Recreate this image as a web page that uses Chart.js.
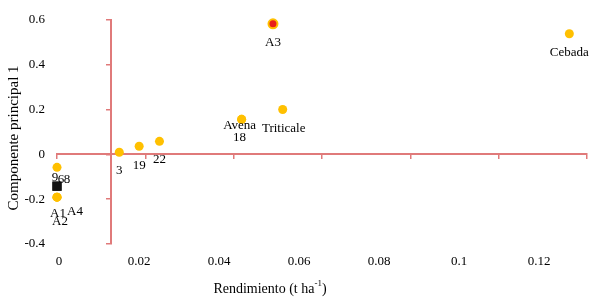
<!DOCTYPE html>
<html>
<head>
<meta charset="utf-8">
<script src="https://cdn.jsdelivr.net/npm/chart.js@4.4.0/dist/chart.umd.min.js"></script>
<style>
  html, body { margin: 0; padding: 0; background: #fff; }
  #wrap { width: 607px; height: 299px; }
</style>
</head>
<body>
<div id="wrap"><canvas id="chart"></canvas></div>
<script>
// Biplot data: yield (t/ha) vs principal component 1
const goldNames = ["Cebada", "A3", "Triticale", "Avena", "18", "22", "19", "3", "9", "A1", "A2", "A4"];
const goldX = [0.116, 0.0489, 0.0511, 0.0418, 0.0418, 0.0232, 0.0186, 0.0141, 0, 0, 0, 0];
const goldY = [0.538, 0.582, 0.2, 0.156, 0.156, 0.058, 0.036, 0.009, -0.058, -0.191, -0.191, -0.191];

const blackNames = ["6", "8"];
const blackX = [0, 0];
const blackY = [-0.142, -0.142];

const xTicks = [0, 0.02, 0.04, 0.06, 0.08, 0.1, 0.12];
const yTicks = [-0.4, -0.2, 0, 0.2, 0.4, 0.6];
const yAxisCross = 0.0122;

const axisRed = "#E07a7a";
const gold = "#FFC000";
const font = "Liberation Serif";

// label offsets in px (dx, dy) from the point centre
const labelOffsets = {
  Cebada: [0, 19], A3: [0, 19], Triticale: [1, 19], Avena: [-2, 6], "18": [-2, 18],
  "22": [0, 18], "19": [0, 19], "3": [0, 18], "9": [-2, 10],
  A1: [1, 16], A2: [3, 24], A4: [18, 14], "6": [4, -7], "8": [10, -7],
};

const toPoints = (xs, ys) => xs.map((x, i) => ({ x: x, y: ys[i] }));

const pointLabels = {
  id: "pointLabels",
  afterDatasetsDraw(chart) {
    const ctx = chart.ctx;
    ctx.save();
    ctx.font = "13px '" + font + "'";
    ctx.fillStyle = "#000";
    ctx.textAlign = "center";
    ctx.textBaseline = "middle";
    chart.data.datasets.forEach((ds, di) => {
      const meta = chart.getDatasetMeta(di);
      meta.data.forEach((el, i) => {
        const name = ds.names[i];
        const off = labelOffsets[name] || [0, 18];
        ctx.fillText(name, el.x + off[0], el.y + off[1]);
      });
    });
    ctx.restore();
  },
};

const axisTitles = {
  id: "axisTitles",
  afterDraw(chart) {
    const ctx = chart.ctx;
    const area = chart.chartArea;
    ctx.save();
    ctx.fillStyle = "#000";
    ctx.textBaseline = "middle";

    // y title
    ctx.font = "15px '" + font + "'";
    ctx.translate(14, (area.top + area.bottom) / 2 + 6);
    ctx.rotate(-Math.PI / 2);
    ctx.textAlign = "center";
    ctx.fillText("Componente principal 1", 0, 0);
    ctx.setTransform(1, 0, 0, 1, 0, 0);

    // x title with superscript
    const main = "Rendimiento (t ha";
    const sup = "-1";
    const end = ")";
    ctx.font = "14px '" + font + "'";
    const w1 = ctx.measureText(main).width;
    const w3 = ctx.measureText(end).width;
    ctx.font = "9px '" + font + "'";
    const w2 = ctx.measureText(sup).width;
    const cx = area.left + 213;
    const y = 289;
    let x = cx - (w1 + w2 + w3) / 2;
    ctx.textAlign = "left";
    ctx.font = "14px '" + font + "'";
    ctx.fillText(main, x, y);
    x += w1;
    ctx.font = "9px '" + font + "'";
    ctx.fillText(sup, x, y - 5);
    x += w2;
    ctx.font = "14px '" + font + "'";
    ctx.fillText(end, x, y);
    ctx.restore();
  },
};

new Chart(document.getElementById("chart"), {
  type: "scatter",
  data: {
    datasets: [
      {
        names: blackNames,
        data: toPoints(blackX, blackY),
        pointStyle: "rect",
        pointRadius: 6.5,
        backgroundColor: "#111",
        borderColor: "#111",
        borderWidth: 0,
        clip: false,
      },
      {
        names: goldNames,
        data: toPoints(goldX, goldY),
        pointRadius: 4.5,
        pointBackgroundColor: (c) => (goldNames[c.dataIndex] === "A3" ? "#E8201A" : gold),
        pointBorderColor: gold,
        pointBorderWidth: (c) => (goldNames[c.dataIndex] === "A3" ? 2 : 0),
        clip: false,
      },
    ],
  },
  options: {
    responsive: true,
    maintainAspectRatio: false,
    animation: false,
    layout: { padding: { top: 19, right: 20, left: 0, bottom: 0 } },
    plugins: {
      legend: { display: false },
      tooltip: { enabled: false },
    },
    scales: {
      // data axis drawn through y = 0
      x: {
        type: "linear",
        min: 0,
        max: 0.12,
        position: { y: 0 },
        afterBuildTicks: (s) => { s.ticks = xTicks.map((v) => ({ value: v })); },
        ticks: { display: false },
        grid: { drawOnChartArea: false, drawTicks: true, tickLength: 4, color: axisRed, lineWidth: 1.5 },
        border: { display: true, color: axisRed, width: 2 },
      },
      // tick labels along the bottom
      xl: {
        type: "linear",
        position: "bottom",
        min: -0.0005,
        max: 0.132,
        afterBuildTicks: (s) => { s.ticks = xTicks.map((v) => ({ value: v })); },
        afterFit: (s) => { s.height = 55; },
        ticks: {
          padding: 10,
          autoSkip: false,
          maxRotation: 0,
          color: "#000",
          font: { family: font, size: 13 },
          callback: (v) => String(v),
        },
        grid: { display: false, drawTicks: false, tickLength: 0 },
        border: { display: false },
      },
      y: {
        type: "linear",
        position: "left",
        min: -0.4,
        max: 0.6,
        afterBuildTicks: (s) => { s.ticks = yTicks.map((v) => ({ value: v })); },
        afterFit: (s) => { s.width = 57; },
        ticks: {
          padding: 12,
          color: "#000",
          font: { family: font, size: 13 },
          callback: (v) => String(v),
        },
        grid: { display: false, drawTicks: false, tickLength: 0 },
        border: { display: false },
      },
      // red vertical axis crossing the x axis
      y2: {
        type: "linear",
        min: -0.4,
        max: 0.6,
        position: { x: yAxisCross },
        afterBuildTicks: (s) => { s.ticks = yTicks.map((v) => ({ value: v })); },
        ticks: { display: false },
        grid: { drawOnChartArea: false, drawTicks: true, tickLength: 4, color: axisRed, lineWidth: 1.5 },
        border: { display: true, color: axisRed, width: 2 },
      },
    },
  },
  plugins: [pointLabels, axisTitles],
});
</script>
</body>
</html>
